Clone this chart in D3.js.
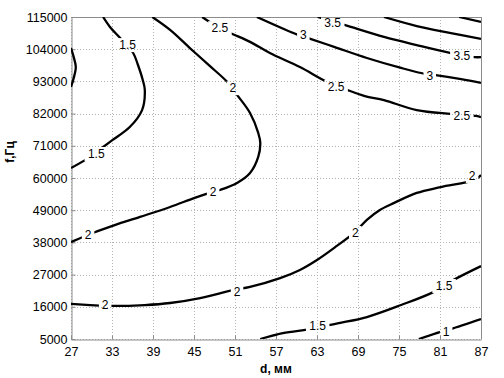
<!DOCTYPE html>
<html>
<head>
<meta charset="utf-8">
<script src="https://cdn.jsdelivr.net/npm/d3@7"></script>
<style>
  body { margin: 0; background: #fff; }
  text { font-family: "Liberation Sans", Arial, sans-serif; }
</style>
</head>
<body>
<div id="chart"></div>
<script>
/* Contour chart f(d) */

const width = 504, height = 378,
    margin = ({ top: 17, right: 23, bottom: 39, left: 71 });

// axis ticks
const dTicks = [27, 33, 39, 45, 51, 57, 63, 69, 75, 81, 87];
const fTicks = [5000, 16000, 27000, 38000, 49000, 60000, 71000, 82000, 93000, 104000, 115000];

// contour lines, points as [d (mm), f (Hz)]
const line15a = [[31.7,115000],[32.7,111600],[34.2,107800],[36.1,102700],[36.8,98600],[37.5,93500],[37.8,90100],[37.4,83200],[35.6,77400],[33.1,73000],[31.7,70600],[29.5,66800],[27,63400]];
const line15b = [[27,104400],[27.4,101300],[27.7,97900],[27.4,94200],[27,91100]];
const line2a = [[38.9,115000],[41.5,110600],[44.4,104400],[47.3,98300],[50.0,92500],[51.3,88400],[53.2,82200],[54.4,75400],[54.7,72000],[54.4,67200],[53.2,61700],[51.3,58300],[48.8,55900],[47.3,54900],[45.1,53200],[41.5,50100],[37.1,46700],[33.4,43900],[30.2,41200],[27,38100]];
const line2b = [[27,17000],[29.8,16600],[32.7,16300],[37.8,16600],[41.5,17300],[45.9,19000],[50.7,21700],[53.2,22800],[57.6,25800],[60.5,28600],[63.0,32000],[65.9,36800],[68.6,41600],[70.3,45700],[72.2,49100],[74.3,51500],[77.6,54900],[81.1,56900],[86.0,59300],[87,61000]];
const line15c = [[54.7,5000],[58.0,7000],[62.0,8400],[64.9,9800],[66.4,10500],[70.3,12500],[75.3,16600],[80.1,21100],[83.0,25200],[87,29900]];
const line1 = [[77.9,5000],[81.1,7400],[82.6,8400],[87,11800]];
const line25 = [[46.2,115000],[47.3,113300],[50.0,109900],[53.2,106500],[56.1,102700],[60.5,97900],[64.5,92800],[67.4,90100],[70.0,88000],[72.8,86600],[77.6,83200],[82.6,81900],[86.3,81200],[87,80800]];
const line3 = [[54.2,115000],[60.2,108900],[61.7,107800],[65.5,104800],[70.3,101000],[75.3,97600],[78.9,95500],[80.1,95200],[84.1,93800],[87,92500]];
const line35 = [[63.1,115000],[67.0,112300],[72.8,108200],[77.6,105400],[82.6,102700],[86.0,101300],[87,101300]];
const line4 = [[72.8,115000],[77.6,111900],[82.6,109500],[87,107500]];
const line45 = [[83.8,115000],[87,113300]];

const contourLines = [line15a, line15b, line2a, line2b, line15c, line1, line25, line3, line35, line4, line45];

// inline level labels
const labelText = ["1.5", "1.5", "2", "2", "2", "2", "2", "2", "2", "1.5", "1.5", "1", "2.5", "2.5", "2.5", "3", "3", "3.5", "3.5"];
const labelD = [35.3, 30.7, 50.7, 47.8, 29.5, 32.0, 51.3, 68.6, 85.7, 63.1, 81.6, 81.9, 48.8, 65.8, 84.2, 61.0, 79.5, 65.3, 84.2];
const labelF = [105400, 68200, 90700, 55200, 40500, 16600, 21100, 41200, 60700, 9400, 23100, 7400, 111200, 91100, 81200, 108900, 94800, 113000, 101700];

const svg = d3.select("#chart")
    .append("svg")
    .attr("width", width)
    .attr("height", height);

svg.append("rect").attr("width", width).attr("height", height).attr("fill", "#fff");

let x = d3.scaleLinear()
    .domain([27, 87])
    .range([margin.left, width - margin.right]);

let y = d3.scaleLinear()
    .domain([5000, 115000])
    .range([height - margin.bottom, margin.top]);

/* grid */
svg.append("g")
    .selectAll("line")
    .data(dTicks)
    .join("line")
    .attr("x1", d => Math.round(x(d)) + 0.5).attr("x2", d => Math.round(x(d)) + 0.5)
    .attr("y1", margin.top).attr("y2", height - margin.bottom)
    .attr("stroke", "#b4b4b4")
    .attr("stroke-dasharray", "1,2");

svg.append("g")
    .selectAll("line")
    .data(fTicks)
    .join("line")
    .attr("y1", d => Math.round(y(d)) + 0.5).attr("y2", d => Math.round(y(d)) + 0.5)
    .attr("x1", margin.left).attr("x2", width - margin.right)
    .attr("stroke", "#b4b4b4")
    .attr("stroke-dasharray", "1,2");

/* axes */
const xAxis = svg.append("g")
    .attr("transform", `translate(0,${height - margin.bottom + 0.5})`)
    .call(d3.axisBottom(x).tickValues(dTicks).tickSize(-4).tickSizeOuter(0).tickPadding(8));

const yAxis = svg.append("g")
    .attr("transform", `translate(${margin.left + 0.5},0)`)
    .call(d3.axisLeft(y).tickValues(fTicks).tickFormat(d3.format("d"))
      .tickSize(-4).tickSizeOuter(0).tickPadding(4));

for (let a of [xAxis, yAxis]) {
    a.select(".domain").attr("stroke", "#8c8c8c");
    a.selectAll(".tick line").attr("stroke", "#8c8c8c");
    a.selectAll(".tick text")
      .attr("fill", "#000")
      .style("font-size", "12.5px")
      .style("font-family", "'Liberation Sans', Arial, sans-serif");
}

// top and right box edges
svg.append("line")
    .attr("x1", margin.left).attr("x2", width - margin.right + 0.5)
    .attr("y1", margin.top + 0.5).attr("y2", margin.top + 0.5)
    .attr("stroke", "#8c8c8c");
svg.append("line")
    .attr("x1", width - margin.right + 0.5).attr("x2", width - margin.right + 0.5)
    .attr("y1", margin.top).attr("y2", height - margin.bottom)
    .attr("stroke", "#8c8c8c");

/* axis labels */
svg.append("text")
    .attr("x", (margin.left + width - margin.right) / 2)
    .attr("y", height - 5)
    .attr("text-anchor", "middle")
    .attr("font-weight", "bold")
    .style("font-size", "12px")
    .text("d, мм");

svg.append("text")
    .attr("transform", "translate(14,152) rotate(-90)")
    .attr("text-anchor", "middle")
    .attr("font-weight", "bold")
    .style("font-size", "12px")
    .text("f,Гц");

/* contour lines with gaps for labels */
const labels = labelText.map((t, i) => ({ t, d: labelD[i], f: labelF[i] }));

svg.append("clipPath").attr("id", "plot-clip")
    .append("rect")
    .attr("x", margin.left).attr("y", margin.top)
    .attr("width", width - margin.left - margin.right)
    .attr("height", height - margin.top - margin.bottom);

const gapW = t => t.length * 5.5 + 7;

const mask = svg.append("mask").attr("id", "label-mask")
    .attr("maskUnits", "userSpaceOnUse")
    .attr("x", 0).attr("y", 0).attr("width", width).attr("height", height);
mask.append("rect").attr("width", width).attr("height", height).attr("fill", "#fff");
mask.selectAll("rect.gap")
    .data(labels)
    .join("rect")
    .attr("class", "gap")
    .attr("x", d => x(d.d) - gapW(d.t) / 2)
    .attr("y", d => y(d.f) - 7)
    .attr("width", d => gapW(d.t))
    .attr("height", 14)
    .attr("fill", "#000");

let line = d3.line()
    .x(d => x(d[0]))
    .y(d => y(d[1]))
    .curve(d3.curveCatmullRom);

svg.append("g")
    .attr("clip-path", "url(#plot-clip)")
    .append("g")
    .attr("mask", "url(#label-mask)")
    .selectAll("path")
    .data(contourLines)
    .join("path")
    .attr("d", line)
    .attr("fill", "none")
    .attr("stroke", "#000")
    .attr("stroke-width", 2.3);

svg.append("g")
    .selectAll("text")
    .data(labels)
    .join("text")
    .attr("x", d => x(d.d))
    .attr("y", d => y(d.f))
    .attr("dy", "0.35em")
    .attr("text-anchor", "middle")
    .attr("fill", "#000")
    .style("font-size", "12px")
    .text(d => d.t);
</script>
</body>
</html>
